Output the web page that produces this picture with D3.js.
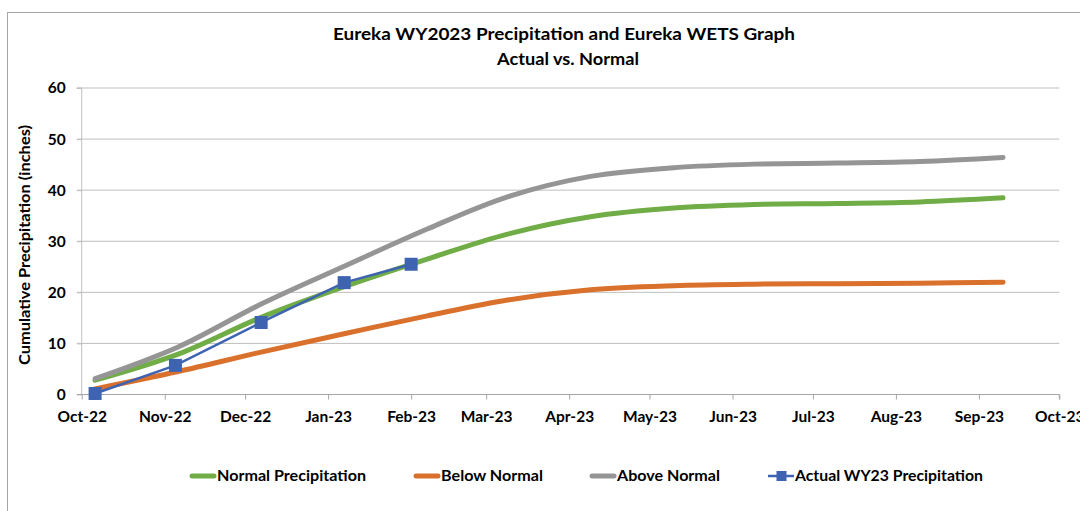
<!DOCTYPE html>
<html><head><meta charset="utf-8">
<script src="https://cdn.jsdelivr.net/npm/d3@7"></script>
<style>
html,body{margin:0;padding:0;background:#fff;}
svg text{font-family:Lato,"Open Sans",sans-serif;font-weight:bold;fill:#000;}
</style></head>
<body><svg id="c" width="1080" height="511"></svg>
<script>
// ---- data ----
const curveDates = ["2022-10-06","2022-11-06","2022-12-07","2023-01-07","2023-02-07","2023-03-09","2023-04-09","2023-05-10","2023-06-09","2023-07-10","2023-08-10","2023-09-10"];
const normalPrecip = [2.7, 7.8, 15.0, 21.0, 26.4, 31.3, 34.7, 36.4, 37.1, 37.3, 37.6, 38.4];
const belowNormal  = [1.0, 4.4, 8.2, 11.8, 15.3, 18.4, 20.4, 21.2, 21.5, 21.6, 21.7, 21.9];
const aboveNormal  = [3.0, 9.2, 17.6, 25.0, 32.3, 38.6, 42.6, 44.3, 45.0, 45.2, 45.5, 46.3];
const actualDates  = ["2022-10-06","2022-11-05","2022-12-07","2023-01-07","2023-02-01"];
const actualPrecip = [0.1, 5.6, 14.0, 21.8, 25.4];
const tickMonths = ["2022-10-01","2022-11-01","2022-12-01","2023-01-01","2023-02-01","2023-03-01","2023-04-01","2023-05-01","2023-06-01","2023-07-01","2023-08-01","2023-09-01","2023-10-01"];
const yTicks = [0,10,20,30,40,50,60];
const seriesNames = ["Normal Precipitation","Below Normal","Above Normal","Actual WY23 Precipitation"];
const colors = {green:"#70AD47", orange:"#D9702B", gray:"#959595", blue:"#3E63B1"};

const parse = d3.utcParse("%Y-%m-%d");
const fmt = d3.utcFormat("%b-%y");
const svg = d3.select("#c");

// chart border
svg.append("rect").attr("x",7.5).attr("y",12.5).attr("width",1200).attr("height",700)
  .attr("fill","none").attr("stroke","#A6A6A6").attr("stroke-width",1);

const x = d3.scaleUtc().domain([parse(tickMonths[0]), parse(tickMonths[tickMonths.length-1])]).range([81.7, 1059.3]);
const y = d3.scaleLinear().domain([0,60]).range([394,87.5]);

// gridlines
svg.append("g").selectAll("line").data(yTicks.filter(d=>d>0)).join("line")
  .attr("x1",77).attr("x2",1059.3).attr("y1",d=>y(d)+0.5).attr("y2",d=>y(d)+0.5)
  .attr("stroke","#BFBFBF").attr("stroke-width",1);

// y axis
const yAx = svg.append("g").attr("transform","translate(81.7,0.5)")
  .call(d3.axisLeft(y).tickValues(yTicks).tickSize(5).tickPadding(11));
yAx.select(".domain").attr("stroke","#BFBFBF").attr("d", `M-5,${y(60)}H0V${y(0)}`);
yAx.selectAll(".tick line").attr("stroke","#BFBFBF");
yAx.selectAll("text").style("font-size","15.5px").attr("font-family","Lato").attr("font-weight","bold");

// x axis
const xAx = svg.append("g").attr("transform",`translate(0,${y(0)+0.5})`)
  .call(d3.axisBottom(x).tickValues(tickMonths.map(parse)).tickFormat(fmt).tickSize(5).tickPadding(11));
xAx.select(".domain").attr("stroke","#A6A6A6").attr("d", `M77,0H1059.3V5`);
xAx.selectAll(".tick line").attr("stroke","#A6A6A6");
xAx.selectAll("text").style("font-size","15.5px").attr("font-family","Lato").attr("font-weight","bold");

// y title
svg.append("text").attr("transform","translate(30,245) rotate(-90)").attr("text-anchor","middle")
  .style("font-size","15px").attr("textLength",240).attr("lengthAdjust","spacingAndGlyphs")
  .text("Cumulative Precipitation (inches)");

// title
svg.append("text").attr("x",564).attr("y",39.5).attr("text-anchor","middle").style("font-size","17.5px")
  .attr("textLength",462).attr("lengthAdjust","spacingAndGlyphs")
  .text("Eureka WY2023 Precipitation and Eureka WETS Graph");
svg.append("text").attr("x",568).attr("y",64.5).attr("text-anchor","middle").style("font-size","17.5px")
  .attr("textLength",142).attr("lengthAdjust","spacingAndGlyphs")
  .text("Actual vs. Normal");

// lines
const line = d3.line().x(d=>x(d[0])).y(d=>y(d[1])).curve(d3.curveCatmullRom.alpha(0.5));
const cd = curveDates.map(parse);
function drawSmooth(vals,color){
  svg.append("path").datum(cd.map((d,i)=>[d,vals[i]])).attr("d",line)
    .attr("fill","none").attr("stroke",color).attr("stroke-width",5).attr("stroke-linecap","round");
}
drawSmooth(normalPrecip, colors.green);
drawSmooth(belowNormal, colors.orange);
drawSmooth(aboveNormal, colors.gray);

const ad = actualDates.map(parse).map((d,i)=>[d,actualPrecip[i]]);
svg.append("path").datum(ad).attr("d",d3.line().x(d=>x(d[0])).y(d=>y(d[1])))
  .attr("fill","none").attr("stroke",colors.blue).attr("stroke-width",2.5);
svg.append("g").selectAll("rect").data(ad).join("rect")
  .attr("x",d=>x(d[0])-6.5).attr("y",d=>y(d[1])-6.5).attr("width",13).attr("height",13)
  .attr("fill",colors.blue);

// legend
const legend = [
  {name:seriesNames[0], color:colors.green, x1:190, tx:217, w:149},
  {name:seriesNames[1], color:colors.orange, x1:414, tx:441, w:102},
  {name:seriesNames[2], color:colors.gray, x1:590, tx:617, w:103},
  {name:seriesNames[3], color:colors.blue, x1:768, tx:795, w:188, marker:true}
];
const ly = 476;
legend.forEach(l=>{
  if(l.marker){
    svg.append("line").attr("x1",l.x1).attr("x2",l.tx-1).attr("y1",ly).attr("y2",ly)
      .attr("stroke",l.color).attr("stroke-width",2.5);
    svg.append("rect").attr("x",(l.x1+l.tx)/2-5).attr("y",ly-5).attr("width",10).attr("height",10).attr("fill",l.color);
  } else {
    svg.append("line").attr("x1",l.x1+2).attr("x2",l.tx-3).attr("y1",ly).attr("y2",ly)
      .attr("stroke",l.color).attr("stroke-width",5).attr("stroke-linecap","round");
  }
  svg.append("text").attr("x",l.tx).attr("y",ly+5).style("font-size","15px")
    .attr("textLength",l.w).attr("lengthAdjust","spacingAndGlyphs").text(l.name);
});
</script></body></html>
